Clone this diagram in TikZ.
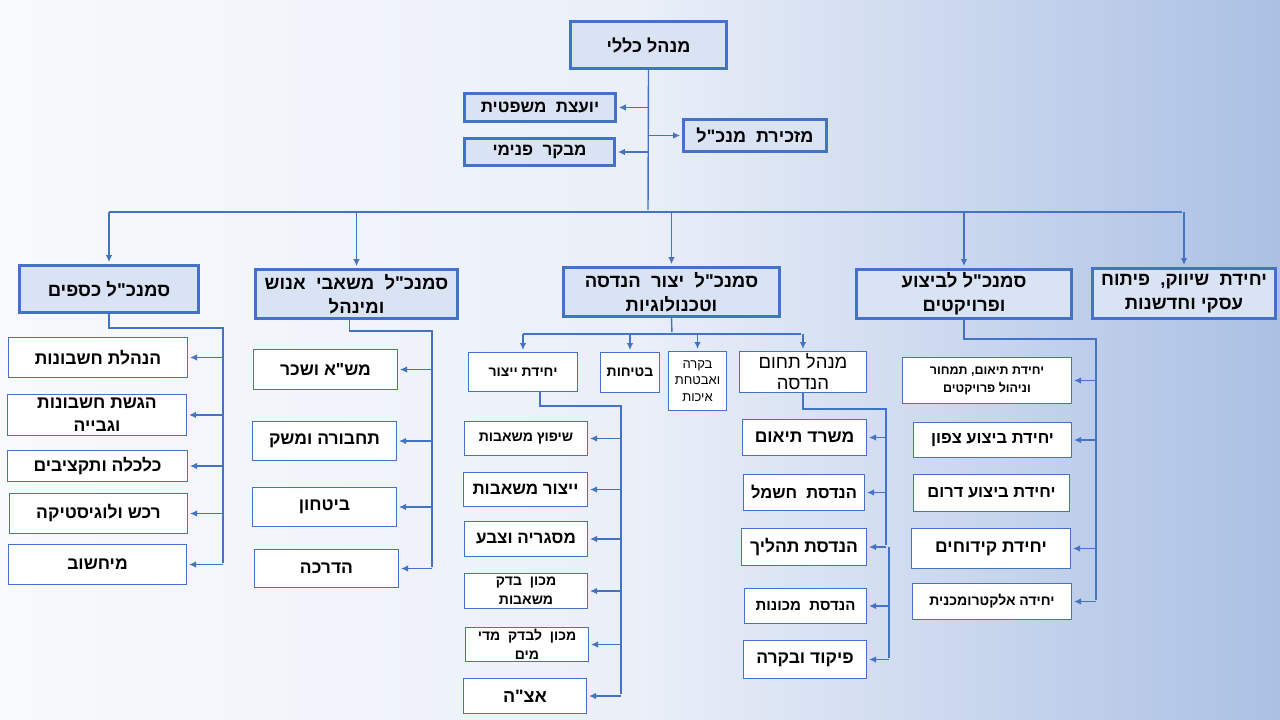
\documentclass[tikz,border=0pt]{standalone}
\usepackage{fontspec}
\setmainfont{Liberation Sans}
\newfontfamily\hebfont[Script=Hebrew]{Liberation Sans}
\usetikzlibrary{arrows.meta}
\TeXXeTstate=1
\newcommand\hb[1]{\beginR#1\endR}
\newcommand\fsz[1]{\hebfont\bfseries\fontsize{#1}{1.25\dimexpr#1pt\relax}\selectfont}
\definecolor{edge}{HTML}{4472C4}
\definecolor{boxfill}{HTML}{DAE3F3}
\definecolor{bgl}{HTML}{F8F9FC}
\definecolor{bgm}{HTML}{EAEFF8}
\definecolor{bgr}{HTML}{ABC0E4}
\tikzset{
    head/.style={draw=edge, line width=2.6pt, fill=boxfill, align=center, inner sep=1pt,
        font=\hebfont\bfseries\fontsize{18.5}{24}\selectfont},
    unit/.style={draw=edge, line width=1pt, fill=white, align=center, inner sep=1pt,
        font=\hebfont\bfseries\fontsize{17.5}{23}\selectfont},
    small/.style={font=\hebfont\bfseries\fontsize{14}{19}\selectfont},
    link/.style={draw=edge, line width=1.4pt},
}
\begin{document}
\begin{tikzpicture}[x=1pt, y=-1pt, >={Latex[length=7pt,width=6.5pt]}, shorten >=2pt]
\shade[left color=bgl, right color=bgm] (0,0) rectangle (640,720);
\shade[left color=bgm, right color=bgr] (640,0) rectangle (1280,720);
\useasboundingbox (0,0) rectangle (1280,720);

\node[head, minimum width=156, minimum height=47, font=\hebfont\bfseries\fontsize{18}{22}\selectfont] (gm) at (648.5,45) {\hb{מנהל כללי}};
\node[head, minimum width=151, minimum height=28, font=\hebfont\bfseries\fontsize{17}{20}\selectfont] (legal) at (540,107.5) {\hb{יועצת~ משפטית}};
\node[head, minimum width=150, minimum height=27, font=\hebfont\bfseries\fontsize{17}{20}\selectfont] (audit) at (539.5,152) {\hb{מבקר~ פנימי}};
\node[head, minimum width=143, minimum height=32, font=\hebfont\bfseries\fontsize{18}{20}\selectfont] (sec) at (755,135.5) {\hb{מזכירת~ מנכ"ל}};

\node[head, minimum width=179, minimum height=47] (fin) at (109,289) {\hb{סמנכ"ל כספים}};
\node[head, minimum width=202, minimum height=49] (hr) at (356.5,294) {\hb{סמנכ"ל~ משאבי~ אנוש}\\\hb{ומינהל}};
\node[head, minimum width=216, minimum height=49] (eng) at (671.5,292) {\hb{סמנכ"ל~ יצור~ הנדסה}\\\hb{וטכנולוגיות}};
\node[head, minimum width=215, minimum height=49] (exe) at (964,294) {\hb{סמנכ"ל לביצוע}\\\hb{ופרויקטים}};
\node[head, minimum width=183, minimum height=50] (mkt) at (1184,293.5) {\hb{יחידת~ שיווק,~ פיתוח}\\\hb{עסקי וחדשנות}};

\coordinate (bus) at (648,212);
\draw[link] (gm.south) -- (bus);
\draw[link,->] (gm.south |- legal) -- (legal.east);
\draw[link,->] (gm.south |- audit) -- (audit.east);
\draw[link,->] (gm.south |- sec) -- (sec.west);
\draw[link] (fin.north |- bus) -- (mkt.north |- bus);
\foreach \n in {fin,hr,eng,exe,mkt}
{
    \draw[link,->] (\n.north |- bus) -- (\n.north);
}

\node[unit, minimum width=179, minimum height=40] (fa1) at (98,357.5) {\hb{הנהלת חשבונות}};
\node[unit, minimum width=179, minimum height=41] (fa2) at (97,415) {\hb{הגשת חשבונות}\\\hb{וגבייה}};
\node[unit, minimum width=180, minimum height=31] (fa3) at (97.5,466) {\hb{כלכלה ותקציבים}};
\node[unit, minimum width=178, minimum height=40] (fa4) at (98.5,513.5) {\hb{רכש ולוגיסטיקה}};
\node[unit, minimum width=178, minimum height=40] (fa5) at (97.5,564.5) {\hb{מיחשוב}};
\coordinate (finbus) at (223,328);
\draw[link] (fin.south) |- (finbus) -- (finbus |- fa5);
\foreach \c in {fa1,fa2,fa3,fa4,fa5}
{
    \draw[link,->] (finbus |- \c) -- (\c.east);
}

\node[unit, minimum width=144, minimum height=40] (hr1) at (325.5,369.5) {\hb{מש"א ושכר}};
\node[unit, minimum width=144, minimum height=39] (hr2) at (324.5,441) {\hb{תחבורה ומשק}};
\node[unit, minimum width=144, minimum height=39] (hr3) at (324.5,507) {\hb{ביטחון}};
\node[unit, minimum width=144, minimum height=38] (hr4) at (326.5,568.5) {\hb{הדרכה}};
\coordinate (hrbus) at (432,331);
\draw[link] ([xshift=-7]hr.south) |- (hrbus) -- (hrbus |- hr4);
\foreach \c in {hr1,hr2,hr3,hr4}
{
    \draw[link,->] (hrbus |- \c) -- (\c.east);
}

\node[unit, small, minimum width=109, minimum height=39] (prod) at (523,372) {\hb{יחידת ייצור}};
\node[unit, small, minimum width=59, minimum height=40] (safe) at (630,372.5) {\hb{בטיחות}};
\node[unit, minimum width=58, minimum height=59, font=\hebfont\fontsize{13}{16.5}\selectfont] (qa) at (697.5,381) {\hb{בקרה}\\\hb{ואבטחת}\\\hb{איכות}};
\node[unit, minimum width=127, minimum height=41, font=\hebfont\fontsize{18.5}{21}\selectfont] (engm) at (803,372) {\hb{מנהל תחום}\\\hb{הנדסה}};
\coordinate (engrow) at (672,334);
\draw[link] (eng.south) -- (engrow);
\draw[link] (prod.north |- engrow) -- (engm.north |- engrow);
\foreach \n in {prod,safe,qa,engm}
{
    \draw[link,->] (\n.north |- engrow) -- (\n.north);
}

\node[unit, small, minimum width=123, minimum height=34] (p1) at (526,438.5) {\hb{שיפוץ משאבות}};
\node[unit, minimum width=124, minimum height=34, font=\fsz{17}] (p2) at (525.5,489.5) {\hb{ייצור משאבות}};
\node[unit, minimum width=123, minimum height=35, font=\fsz{17}] (p3) at (526,539) {\hb{מסגריה וצבע}};
\node[unit, small, minimum width=123, minimum height=35] (p4) at (526,591) {\hb{מכון~ בדק}\\\hb{משאבות}};
\node[unit, small, minimum width=123, minimum height=34] (p5) at (527,644.5) {\hb{מכון~ לבדק~ מדי}\\\hb{מים}};
\node[unit, minimum width=123, minimum height=35, font=\fsz{18}] (p6) at (525,696) {\hb{אצ"ה}};
\coordinate (prodbus) at (621,406);
\draw[link] ([xshift=17]prod.south) |- (prodbus) -- (prodbus |- p6);
\foreach \c in {p1,p2,p3,p4,p5,p6}
{
    \draw[link,->] (prodbus |- \c) -- (\c.east);
}

\node[unit, minimum width=124, minimum height=36] (e1) at (804.5,437.5) {\hb{משרד תיאום}};
\node[unit, minimum width=121, minimum height=36, font=\fsz{16.5}] (e2) at (804,492.5) {\hb{הנדסת~ חשמל}};
\node[unit, minimum width=125, minimum height=37] (e3) at (804,547) {\hb{הנדסת תהליך}};
\node[unit, minimum width=122, minimum height=35, font=\fsz{15}] (e4) at (805.5,606) {\hb{הנדסת~ מכונות}};
\node[unit, minimum width=123, minimum height=38] (e5) at (805,659.5) {\hb{פיקוד ובקרה}};
\coordinate (engbus) at (886,409);
\coordinate (engbus2) at (889,547);
\draw[link] (engm.south) |- (engbus) -- (engbus |- e3);
\draw[link] (engbus2) -- (engbus2 |- e5);
\foreach \c in {e1,e2,e3}
{
    \draw[link,->] (engbus |- \c) -- (\c.east);
}
\foreach \c in {e4,e5}
{
    \draw[link,->] (engbus2 |- \c) -- (\c.east);
}

\node[unit, minimum width=169, minimum height=46, font=\hebfont\bfseries\fontsize{12.5}{18}\selectfont] (x1) at (987,380.5) {\hb{יחידת תיאום, תמחור}\\\hb{וניהול פרויקטים}};
\node[unit, minimum width=158, minimum height=35, font=\fsz{16.5}] (x2) at (992.5,440) {\hb{יחידת ביצוע צפון}};
\node[unit, minimum width=156, minimum height=37, font=\fsz{16.5}] (x3) at (991.5,493) {\hb{יחידת ביצוע דרום}};
\node[unit, minimum width=159, minimum height=40, font=\fsz{17.5}] (x4) at (991,548.5) {\hb{יחידת קידוחים}};
\node[unit, minimum width=159, minimum height=36, font=\fsz{14}] (x5) at (992,601.5) {\hb{יחידה אלקטרומכנית}};
\coordinate (exebus) at (1096,339);
\draw[link] (exe.south) |- (exebus) -- (exebus |- x5);
\foreach \c in {x1,x2,x4,x5}
{
    \draw[link,->] (exebus |- \c) -- (\c.east);
}
\end{tikzpicture}
\end{document}
